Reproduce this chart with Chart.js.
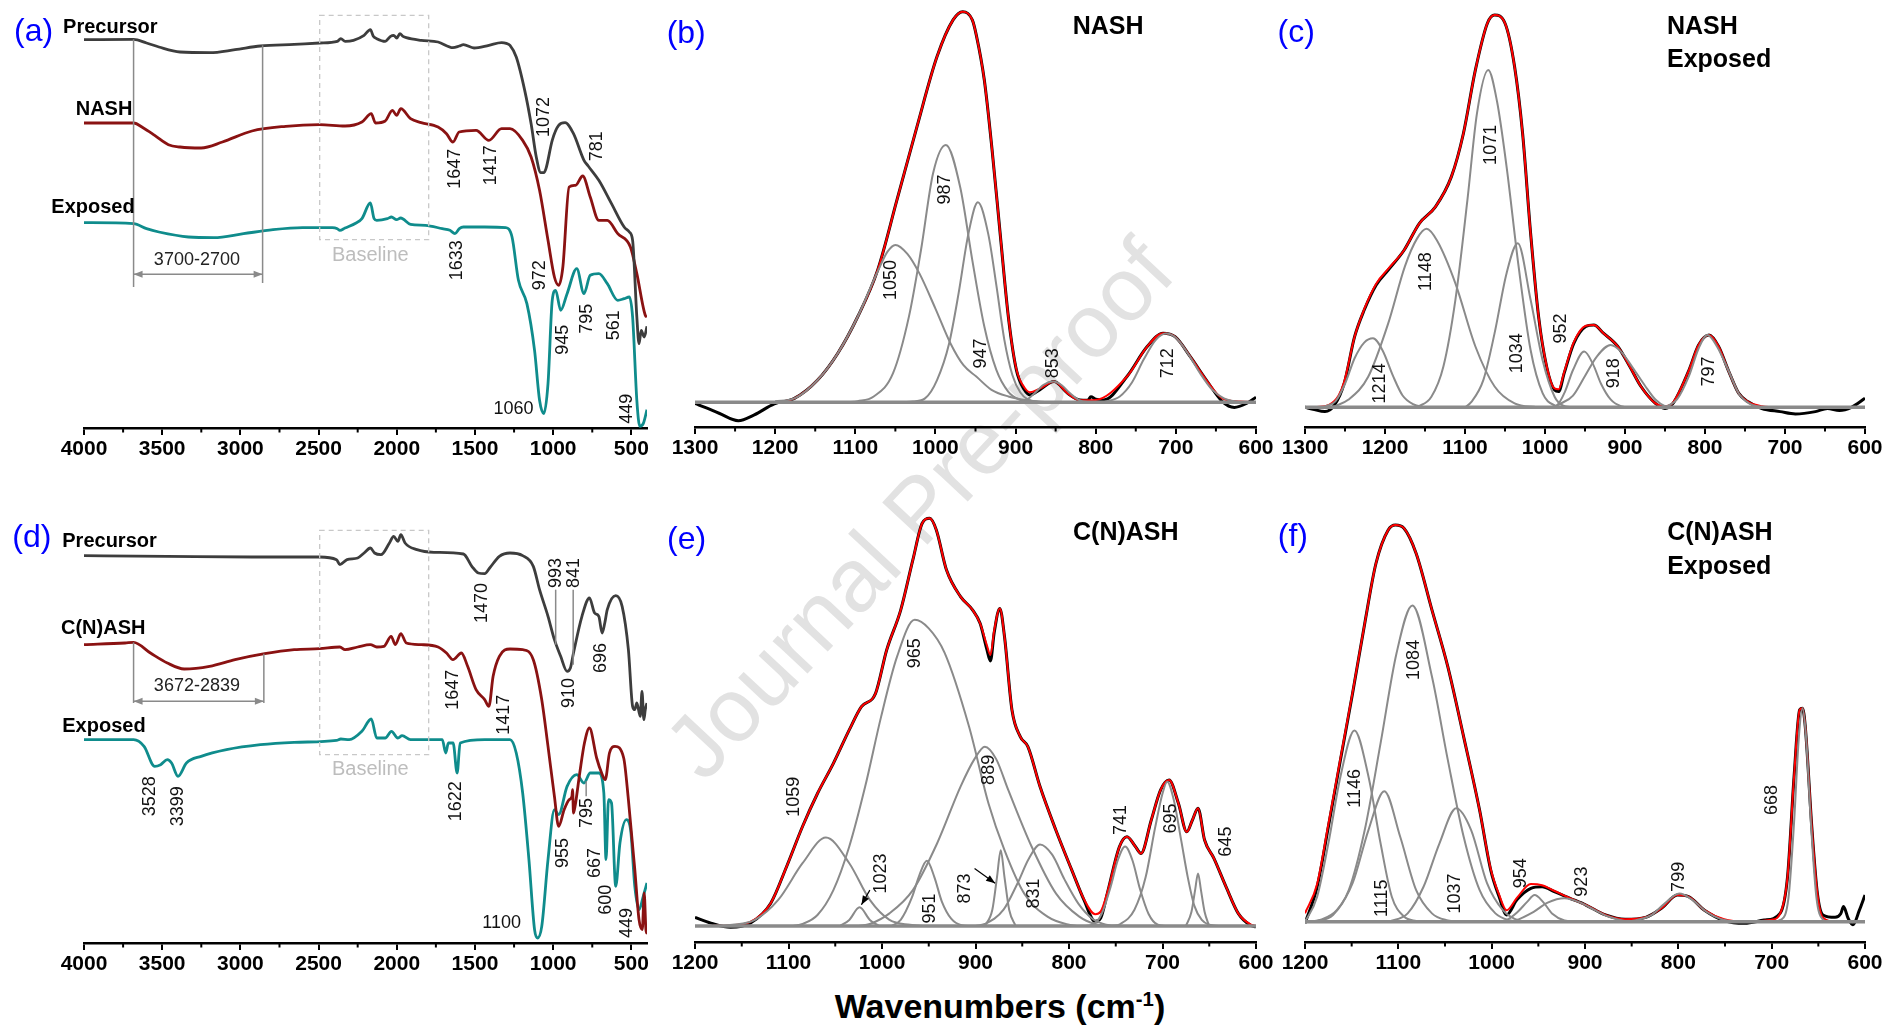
<!DOCTYPE html>
<html>
<head>
<meta charset="utf-8">
<script src="https://cdn.jsdelivr.net/npm/chart.js@4.4.1/dist/chart.umd.min.js"></script>
<style>
html, body { margin: 0; padding: 0; background: #fff; }
#fig { position: relative; width: 1890px; height: 1025px; overflow: hidden; background: #fff;
       font-family: "Liberation Sans", Arial, Helvetica, sans-serif; }
#fig canvas { position: absolute; z-index: 1; }
.wm { position: absolute; left: 919px; top: 509px; transform: translate(-50%, -50%) rotate(-47deg);
      font-size: 90px; color: #e2e2e2; white-space: nowrap; z-index: 0; }
.xt { position: absolute; left: 1000px; top: 1006px; transform: translate(-50%, -50%);
      font-size: 34px; font-weight: bold; white-space: nowrap; z-index: 2; line-height: 1; }
.xt sup { font-size: 60%; }
</style>
</head>
<body>
<div id="fig">
  <div class="wm">Journal Pre-proof</div>
  <div class="xt">Wavenumbers (cm<sup>-1</sup>)</div>
</div>
<script>
const FF = '"Liberation Sans", Arial, Helvetica, sans-serif';

// ---- tick values (cm-1) ----
const ticksWide = [4000, 3500, 3000, 2500, 2000, 1500, 1000, 500];
const minorWide = [3750, 3250, 2750, 2250, 1750, 1250, 750];
const ticksNarrow13 = [1300, 1200, 1100, 1000, 900, 800, 700, 600];
const minorNarrow13 = [1250, 1150, 1050, 950, 850, 750, 650];
const ticksNarrow12 = [1200, 1100, 1000, 900, 800, 700, 600];
const minorNarrow12 = [1150, 1050, 950, 850, 750, 650];

// ---- (a) NASH spectra, [wavenumber, a.u.] ----
const precA = [[4000,116.5],[3683,116.6],[3600,115.5],[3521,114.3],[3386,112.8],[3197,112.6],[3034,113.5],[2872,114.6],[2656,115.1],[2493,115.5],[2380,116.0],[2358,116.8],[2330,116.0],[2277,116.3],[2209,117.8],[2169,119.5],[2150,117.5],[2128,116.8],[2074,116.0],[2040,117.5],[2020,117.8],[2000,117.0],[1980,118.3],[1960,117.5],[1939,117.1],[1844,116.3],[1736,115.8],[1641,114.1],[1600,114.6],[1574,115.0],[1506,114.0],[1411,114.8],[1330,115.6],[1300,115.4],[1276,114.8],[1236,111.3],[1182,101.3],[1141,91.3],[1108,81.3],[1079,76.6],[1060,76.6],[1046,77.8],[1006,86.3],[965,90.8],[924,91.6],[870,88.3],[803,80.3],[776,78.6],[708,74.3],[627,67.3],[546,60.3],[513,58.8],[492,56.3],[465,33.3],[451,25.3],[437,29.3],[418,27.3],[400,30.5]];
const nashA = [[4000,91.5],[3683,91.5],[3620,90],[3548,87.8],[3460,85],[3386,84.3],[3251,84],[3115,85.8],[2926,89.1],[2710,90.5],[2493,91],[2331,90.6],[2223,91.8],[2163,94.3],[2136,91.5],[2074,92.1],[2028,95.3],[2001,93.8],[1974,95.8],[1912,92.8],[1844,91.6],[1736,90.3],[1682,88.3],[1641,85.8],[1601,88.8],[1493,89.3],[1411,86.3],[1330,89.8],[1276,89.8],[1195,86.3],[1141,81.3],[1087,71.3],[1033,56.3],[992,45.3],[965,42.8],[938,48.3],[898,72.3],[857,72.8],[811,75.6],[763,69.3],[708,62.3],[654,62.3],[587,58.3],[506,54.3],[465,46.3],[411,33.8],[400,33.3]];
const expA = [[4000,61.6],[3683,61.3],[3600,59.8],[3521,58.8],[3332,57.3],[3170,57.1],[2980,58.3],[2791,59.5],[2602,60.1],[2412,60.1],[2380,59.8],[2364,59.3],[2331,60.0],[2260,61.5],[2223,62.8],[2169,67.5],[2145,62.8],[2128,62.3],[2060,62.8],[2034,63.3],[2001,62.5],[1975,63.0],[1912,61.1],[1817,60.8],[1709,59.8],[1660,59.3],[1628,58.3],[1600,59.8],[1574,60.3],[1438,60.3],[1303,60.1],[1263,57.3],[1222,44.3],[1168,37.3],[1119,23.3],[1087,8.3],[1060,4.3],[1033,13.3],[1006,38.3],[984,41.3],[952,35.3],[911,40.3],[849,47.8],[803,40.3],[763,45.8],[708,46.3],[654,43.3],[587,38.3],[546,38.8],[513,39.3],[492,33.3],[465,8.3],[446,0.5],[424,1.3],[400,5.5]];
const namesA = [['Precursor',4134,120.3],['NASH',4053,95.5],['Exposed',4209,66.3]];
const peaksA = [['1072',1060,93.3],['781',722,84.5],['1647',1628,77.8],['1417',1398,78.8],['1633',1614,50.3],['972',1087,45.8],['945',938,26.5],['795',784,32.8],['561',613,30.8],['449',527,5.8]];
const flatA = [['1060',1254,5.8]];

// ---- (d) C(N)ASH spectra ----
const precD = [[4000,116.2],[3467,116],[2926,115.8],[2493,115.8],[2385,115],[2364,113.5],[2318,115],[2250,115.5],[2209,117],[2169,118.5],[2142,117],[2101,116.5],[2047,120],[2020,122],[1993,120.5],[1974,122.5],[1947,120],[1871,118],[1763,117.2],[1574,116.7],[1520,113],[1479,111],[1438,110.8],[1406,112.5],[1344,116],[1276,117],[1195,116.2],[1127,113],[1087,106],[1033,98],[992,91],[952,86],[911,81.5],[890,82.5],[870,87],[816,98],[768,103.5],[735,99],[708,98],[687,93],[670,96],[654,100],[600,104.2],[559,101],[519,88],[492,71],[478,70],[465,72],[443,68],[432,75.5],[420,67],[411,70],[400,72]];
const cnashD = [[4000,89.5],[3738,90],[3683,90.2],[3575,87],[3467,84],[3359,82.2],[3197,83],[3034,85],[2845,86.8],[2656,88],[2493,88.3],[2364,88.8],[2331,88],[2250,88.8],[2169,89.5],[2128,88.8],[2082,89],[2036,92],[2009,89.5],[1974,92.8],[1939,90],[1844,89.5],[1736,88.8],[1682,87],[1641,85],[1587,87],[1547,83],[1493,76],[1438,73],[1411,71],[1384,80],[1344,86],[1276,88.2],[1195,88],[1127,85],[1073,73],[1033,59],[992,44],[965,35],[930,40],[898,43],[880,44],[876,46],[870,39],[860,41],[830,51],[800,60],[768,64.5],[722,55.5],[690,51],[667,49],[640,57],[605,59],[549,55.5],[519,43],[478,22],[451,7],[430,4],[418,15],[405,3],[400,4]];
const expD = [[4000,61],[3683,61],[3616,59],[3548,53],[3510,53.5],[3467,55],[3440,54],[3399,50],[3345,54],[3251,56],[3089,58],[2872,59.5],[2656,60.2],[2385,60.8],[2358,61.2],[2304,61],[2223,63.5],[2163,67.2],[2128,61.5],[2074,61.5],[2034,63.5],[1993,61.5],[1966,62.2],[1912,61],[1709,61],[1687,57],[1670,60],[1640,60],[1614,51],[1595,60],[1438,61],[1276,61],[1236,57],[1195,45],[1155,25],[1119,4],[1100,1.5],[1073,5],[1033,25],[992,40],[965,38.5],[911,47],[849,50.5],[803,48],[763,51],[708,51],[676,45],[662,25],[646,43],[627,42],[600,17],[573,30],[532,37],[505,34],[478,17],[451,10],[424,14],[400,18]];
const namesD = [['Precursor',4139,120.5],['C(N)ASH',4147,94.5],['Exposed',4139,65]];
const peaksD = [['1470',1452,102],['993',984,111],['841',868,111],['696',694,85.5],['910',897,75],['1647',1641,76],['1417',1317,68.5],['3528',3575,44],['3399',3399,41],['1622',1622,42.5],['955',938,27],['795',784,39],['667',735,24],['600',662,13],['449',527,6]];
const flatD = [['1100',1330,6]];

// ---- (b) NASH deconvolution ----
const measB = [[1300,-0.3],[1285,-1.5],[1270,-2.8],[1246,-4.7],[1226,-3.2],[1201,-0.4],[1176,1.0],[1147,5.7],[1122,12.5],[1097,21.9],[1072,33.9],[1048,51.8],[1023,70.6],[998,88.5],[978,97.9],[966,100],[954,97.9],[949,94],[939,82.5],[929,64],[919,42.7],[909,21.9],[899,8.3],[889,3.2],[882,1.9],[870,3.2],[852,5.3],[835,2.3],[820,0.6],[810,0.5],[806,1.4],[800,0.8],[790,0.6],[761,6.6],[736,14.2],[716,17.7],[701,16.8],[682,11.7],[662,5.7],[642,0.2],[627,-1.3],[612,-0.3],[600,1.3]];
const fitB = [[1200,0],[1176,1.0],[1147,5.7],[1122,12.5],[1097,21.9],[1072,33.9],[1048,51.8],[1023,70.6],[998,88.5],[978,97.9],[966,100],[954,97.9],[949,94],[939,82.5],[929,64],[919,42.7],[909,21.9],[899,8.5],[889,3.8],[882,2.6],[870,3.5],[852,5.3],[835,2.3],[820,0.5],[800,0.6],[761,6.6],[736,14.2],[716,17.7],[701,16.8],[682,11.7],[662,5.7],[642,1],[620,0.2],[600,0]];
const bandsB = [
  [[1200,0.3],[1176,1.0],[1147,5.7],[1122,12.5],[1097,21.9],[1072,33.5],[1060,38.5],[1050,40.3],[1035,38],[1020,33],[1000,24],[981,15],[965,9.5],[949,6.6],[930,3.2],[909,1.5],[885,0.5],[860,0]],
  [[1110,0],[1097,0.3],[1077,1.5],[1053,7.4],[1033,22],[1018,39],[1003,58.6],[987,65.9],[969,55],[954,36.4],[939,19.4],[924,8.3],[909,2.7],[894,0.6],[880,0]],
  [[1040,0],[1028,0.2],[1013,1],[998,5.7],[983,15],[971,28],[959,43],[947,51.2],[934,43],[924,30],[914,16],[904,7],[894,2.5],[884,0.6],[870,0]],
  [[900,0],[890,0.2],[878,2],[865,4.5],[853,5.3],[842,4.3],[832,2.3],[820,0.5],[805,0]],
  [[790,0],[770,1.5],[755,5],[740,11],[725,16],[712,17.6],[700,16.5],[685,12.5],[670,7.5],[655,3.3],[640,1],[620,0]]
];
const peaksB = [['1050',1055,31.3],['987',988,54.5],['947',943,12.5],['853',853,10],['712',710,10]];

// ---- (c) NASH exposed deconvolution ----
const measC = [[1300,0],[1290,-0.5],[1275,-1.1],[1263,0.6],[1251,6.1],[1238,18],[1226,24.8],[1211,31.2],[1196,35],[1176,40.1],[1157,46.9],[1137,51.1],[1117,58.8],[1102,69.8],[1087,86],[1072,97.9],[1063,100],[1050,97.9],[1038,86.8],[1028,69.8],[1018,44.4],[1008,23.1],[998,10.4],[988,4.4],[983,4],[976,8.7],[964,16.3],[949,20.6],[939,21],[927,18.9],[909,15.5],[894,10.4],[880,5.3],[862,1],[850,-0.3],[840,1],[820,9.5],[808,15.9],[795,18.4],[783,15.5],[771,9.5],[758,3.6],[746,1.4],[729,-0.3],[706,-1.1],[687,-1.7],[662,-1.1],[647,-0.3],[632,-0.8],[617,0],[600,2.3]];
const fitC = [[1300,0],[1285,0.1],[1270,0.6],[1258,3],[1251,6.5],[1238,18],[1226,25],[1211,31.5],[1196,35.3],[1176,40.1],[1157,46.9],[1137,51.1],[1117,58.8],[1102,69.8],[1087,86],[1072,97.9],[1063,100],[1050,97.9],[1038,86.8],[1028,69.8],[1018,44.4],[1008,23.1],[998,10.6],[988,4.8],[983,4.6],[976,9],[964,16.6],[949,20.8],[939,21],[927,18.9],[909,15.5],[894,10.4],[880,5.3],[862,1],[850,0.3],[840,1.2],[820,9.5],[808,15.9],[795,18.4],[783,15.5],[771,9.5],[758,3.6],[746,1.4],[729,0.3],[710,0],[600,0]];
const bandsC = [
  [[1275,0.2],[1262,1.5],[1250,6],[1238,12.5],[1226,16.5],[1215,17.6],[1203,14.5],[1190,8],[1178,3],[1165,0.8],[1150,0]],
  [[1270,0],[1260,0.5],[1246,1.9],[1221,7.8],[1196,21.4],[1175,36],[1160,43],[1148,45.5],[1135,42.5],[1112,31.6],[1087,15.5],[1063,5.3],[1038,1],[1010,0]],
  [[1160,0],[1142,2.7],[1127,10.4],[1112,27.4],[1097,52.8],[1085,75],[1071,86],[1060,78],[1048,61.3],[1033,35.9],[1018,14.6],[1003,3.6],[988,0.5],[975,0]],
  [[1100,0],[1092,1.4],[1077,7],[1063,18.9],[1048,34.2],[1034,41.8],[1018,27.4],[1003,12],[988,2.7],[978,0.5],[965,0]],
  [[995,0],[985,0.5],[975,4],[965,9.5],[951,14.2],[940,11],[930,6],[918,2],[905,0.3],[890,0]],
  [[990,0],[980,1],[965,3],[950,8],[935,13],[918,15.9],[905,14.2],[890,10],[875,5.5],[862,2],[850,0.3],[840,0]],
  [[850,0],[835,2],[820,8],[808,15],[797,18.4],[785,15.5],[771,9.5],[758,3.6],[745,1],[730,0]]
];
const peaksC = [['1214',1206,6.1],['1148',1149,34.6],['1071',1067.5,66.9],['1034',1035,13.8],['952',979.5,20.1],['918',914,8.7],['797',795.5,9.1]];

// ---- (e) C(N)ASH deconvolution ----
const measE = [[1200,2.1],[1183,0.7],[1162,-0.3],[1141,0.7],[1119,5.6],[1102,14.6],[1085,24.4],[1069,32.5],[1052,39.9],[1035,48.1],[1022,53.8],[1007,57],[995,67.7],[980,77.5],[967,89.8],[957,98.8],[949,100],[942,97.2],[931,87.3],[916,80.8],[903,77.5],[895,74.2],[888,68],[884,65],[880,72],[874,77.9],[869,71],[861,53],[852,46.4],[844,44],[831,34.2],[814,23.5],[797,13.7],[784,6.4],[772,1.1],[766,2],[759,8],[746,19.5],[738,21.9],[729,19.5],[723,17.8],[712,26],[702,33.4],[693,35.8],[683,30.1],[674,23.1],[668,26],[662,28.9],[655,21.1],[645,16.6],[632,9.6],[619,3.1],[606,0.2],[600,-0.2]];
const fitE = [[1185,0],[1162,0.2],[1141,1],[1119,5.6],[1102,14.6],[1085,24.4],[1069,32.5],[1052,39.9],[1035,48.1],[1022,53.8],[1007,57],[995,67.7],[980,77.5],[967,89.8],[957,98.8],[949,100],[942,97.2],[931,87.3],[916,80.8],[903,77.5],[895,74.2],[888,69],[884,66.5],[880,72.5],[874,77.9],[869,71],[861,53],[852,46.4],[844,44],[831,34.2],[814,23.5],[797,13.7],[784,6.6],[772,2.9],[766,3.6],[759,8.2],[746,19.5],[738,21.9],[729,19.5],[723,17.8],[712,26],[702,33.4],[693,35.8],[683,30.1],[674,23.1],[668,26],[662,28.9],[655,21.1],[645,16.6],[632,9.6],[619,3.1],[606,0.4],[600,0]];
const bandsE = [
  [[1180,0],[1160,0.3],[1136,1.5],[1111,6.4],[1085,15.4],[1060,21.7],[1035,15.4],[1013,6.4],[992,1.5],[970,0.3],[955,0]],
  [[1045,0],[1035,1.5],[1024,4.6],[1013,1.5],[1003,0]],
  [[1095,0],[1085,0.5],[1069,2.7],[1052,8.8],[1035,19.5],[1018,34.2],[1001,51.3],[984,66],[965,75.1],[950,73],[933,67],[907,49],[886,30],[869,18.6],[848,8],[823,2.3],[800,0.3],[790,0]],
  [[990,0],[980,1.5],[968,7],[960,12.5],[952,16],[944,12],[936,6],[926,1.8],[915,0.2],[905,0]],
  [[1025,0],[1013,0.5],[992,3.1],[967,8.8],[941,20.3],[916,34.2],[901,41],[890,44],[878,41],[865,33.4],[840,19.5],[814,8],[789,2.3],[772,0.5],[755,0]],
  [[890,0],[882,4],[877,12],[873,18.6],[869,12],[864,4],[857,0]],
  [[900,0],[890,0.5],[870,4],[855,10.5],[843,16.5],[831,20],[818,17.5],[805,11.5],[790,5.5],[775,1.8],[760,0.3],[750,0]],
  [[785,0],[775,0.3],[765,3],[755,10],[748,16],[740,19.5],[732,16],[724,9],[715,3],[705,0.3],[695,0]],
  [[755,0],[745,0.5],[730,4],[718,12],[708,24],[700,32.5],[695,35.4],[688,31],[680,21],[673,12],[666,5],[658,1.5],[650,0.3],[640,0]],
  [[675,0],[669,3.5],[665,9],[662,12.9],[659,9],[655,3.5],[650,0]]
];
const peaksE = [['1059',1094,31.7],['1023',1000.7,12.9],['965',964.7,66.9],['951',949,4.3],['889',885.4,38.3],['873',911.7,9.2],['831',837.5,8],['741',744,26],['695',691,26.4],['645',632,20.7]];

// ---- (f) C(N)ASH exposed deconvolution ----
const measF = [[1200,-0.4],[1187,8.8],[1175,23.9],[1162,40.8],[1149,57.6],[1136,75.2],[1124,90.3],[1111,98.7],[1103,100],[1094,99.2],[1081,92.9],[1064,78.6],[1047,64.3],[1030,46.6],[1013,28.2],[1001,13],[992,6.3],[984,1.7],[973,5.5],[958,8.4],[946,8.8],[933,7.6],[916,5.9],[899,4.2],[878,1.7],[857,0.6],[835,1.1],[818,3.4],[801,6.7],[789,6.3],[772,2.9],[751,0.3],[729,-0.4],[708,0.4],[691,2.1],[683,11.3],[676,36.6],[670,53.4],[667,53.8],[664,49.2],[657,23.9],[651,7.1],[645,1.7],[632,1.1],[626,2],[623,3.8],[618,0.8],[613,-0.8],[606,2.9],[600,6.7]];
const fitF = [[1200,2.1],[1187,9.5],[1175,24.5],[1162,41.2],[1149,57.8],[1136,75.2],[1124,90.3],[1111,98.7],[1103,100],[1094,99.2],[1081,92.9],[1064,78.6],[1047,64.3],[1030,46.6],[1013,28.2],[1001,13.3],[992,6.8],[984,2.9],[973,6],[958,9.5],[946,9.2],[933,7.8],[916,5.9],[899,4.2],[878,1.7],[857,0.6],[835,1.1],[818,3.4],[801,6.7],[789,6.3],[772,2.9],[751,0.6],[729,0],[700,0.5],[691,2],[683,11.3],[676,36.6],[670,53.4],[667,53.8],[664,49.2],[657,23.9],[651,7.1],[645,1],[632,0],[600,0]];
const bandsF = [
  [[1200,0.2],[1198,0.8],[1187,6.3],[1175,19.7],[1162,36.6],[1147,48.2],[1132,36.6],[1119,19.7],[1107,6.3],[1094,1.3],[1081,0.2],[1070,0]],
  [[1195,0],[1183,0.5],[1166,2.9],[1149,9.7],[1132,23.1],[1115,32.9],[1098,21.4],[1081,8],[1064,2.1],[1047,0.3],[1035,0]],
  [[1190,0],[1170,1.7],[1153,8],[1136,23.1],[1119,45],[1102,67.6],[1085,79.7],[1064,61.8],[1047,40.8],[1030,21.4],[1013,8],[996,2.1],[980,0.3],[970,0]],
  [[1110,0],[1090,2.1],[1073,8.8],[1056,19.7],[1038,28.6],[1022,23.1],[1005,9.7],[988,2.9],[971,0.3],[960,0]],
  [[995,0],[985,0.3],[972,2.5],[962,5],[954,6.7],[945,5],[935,2],[922,0.3],[910,0]],
  [[985,0],[975,0.3],[955,2.5],[940,4.8],[922,5.9],[905,4.8],[890,3],[875,1.3],[860,0.3],[850,0]],
  [[860,0],[850,0.2],[830,1.5],[815,4.5],[799,7.1],[785,5.5],[770,2.5],[755,0.7],[740,0]],
  [[700,0],[690,0.5],[682,6],[676,25],[671,46],[667,53.8],[663,46],[658,25],[652,6],[645,0.5],[640,0]]
];
const peaksF = [['1146',1146,33.6],['1115',1117,5.9],['1084',1083,66],['1037',1039,7.1],['954',969,12.2],['923',903,10.1],['799',799,11.3],['668',700,30.7]];

// ---- colours ----
const C_PREC = '#3d3d3d', C_NASH = '#8a1212', C_EXP = '#0f8c8c';
const C_BAND = '#8a8a8a', C_FIT = '#ff0000', C_MEAS = '#000000';

Chart.defaults.font.family = FF;

function pts(arr) { return arr.map(p => ({ x: p[0], y: p[1] })); }

function series(arr, color, width, order) {
  return { data: pts(arr), borderColor: color, borderWidth: width, pointRadius: 0,
           fill: false, cubicInterpolationMode: 'monotone', order: order };
}

function arrowHead(ctx, x1, y1, x2, y2, len, half) {
  const a = Math.atan2(y2 - y1, x2 - x1);
  ctx.beginPath();
  ctx.moveTo(x2, y2);
  ctx.lineTo(x2 - len * Math.cos(a) + half * Math.sin(a), y2 - len * Math.sin(a) - half * Math.cos(a));
  ctx.lineTo(x2 - len * Math.cos(a) - half * Math.sin(a), y2 - len * Math.sin(a) + half * Math.cos(a));
  ctx.closePath();
  ctx.fill();
}

function annot(spec) {
  return {
    id: 'annot',
    afterDatasetsDraw(chart) {
      const ctx = chart.ctx;
      const X = v => chart.scales.x.getPixelForValue(v);
      const Y = v => chart.scales.y.getPixelForValue(v);
      ctx.save();
      // dashed "Baseline" boxes
      (spec.boxes || []).forEach(b => {
        ctx.setLineDash([5, 4]);
        ctx.strokeStyle = '#c8c8c8';
        ctx.lineWidth = 1.3;
        ctx.strokeRect(X(b[0]), Y(b[3]), X(b[1]) - X(b[0]), Y(b[2]) - Y(b[3]));
        ctx.setLineDash([]);
      });
      // plain leader lines
      (spec.lines || []).forEach(l => {
        ctx.strokeStyle = l[4] || '#8a8a8a';
        ctx.lineWidth = 1.5;
        ctx.beginPath();
        ctx.moveTo(X(l[0]), Y(l[1]));
        ctx.lineTo(X(l[2]), Y(l[3]));
        ctx.stroke();
      });
      // arrows: [x1,y1,x2,y2,color,double]
      (spec.arrows || []).forEach(a => {
        const x1 = X(a[0]), y1 = Y(a[1]), x2 = X(a[2]), y2 = Y(a[3]);
        ctx.strokeStyle = a[4]; ctx.fillStyle = a[4];
        ctx.lineWidth = a[5] ? 1.5 : 1.2;
        ctx.beginPath(); ctx.moveTo(x1, y1); ctx.lineTo(x2, y2); ctx.stroke();
        arrowHead(ctx, x1, y1, x2, y2, 9, 3.5);
        if (a[5]) arrowHead(ctx, x2, y2, x1, y1, 9, 3.5);
      });
      // texts
      (spec.texts || []).forEach(t => {
        ctx.font = t.font;
        ctx.fillStyle = t.color || '#111';
        ctx.textAlign = t.align || 'center';
        ctx.textBaseline = 'middle';
        if (t.rot) {
          ctx.save();
          ctx.translate(X(t.x), Y(t.y));
          ctx.rotate(-Math.PI / 2);
          ctx.fillText(t.t, 0, 0);
          ctx.restore();
        } else {
          ctx.fillText(t.t, X(t.x), Y(t.y));
        }
      });
      // minor ticks on the x axis
      const bottom = chart.chartArea.bottom;
      ctx.strokeStyle = '#000';
      ctx.lineWidth = 2;
      (spec.minor || []).forEach(m => {
        ctx.beginPath();
        ctx.moveTo(X(m), bottom);
        ctx.lineTo(X(m), bottom + 4.5);
        ctx.stroke();
      });
      ctx.restore();
    }
  };
}

function rotLabels(arr) {
  return arr.map(p => ({ t: p[0], x: p[1], y: p[2], rot: true, font: '18px ' + FF, color: '#111' }));
}
function flatLabels(arr) {
  return arr.map(p => ({ t: p[0], x: p[1], y: p[2], font: '18px ' + FF, color: '#111' }));
}
function nameLabels(arr) {
  return arr.map(p => ({ t: p[0], x: p[1], y: p[2], align: 'left', font: 'bold 20px ' + FF, color: '#000' }));
}
function letter(t, x, y) {
  return { t: t, x: x, y: y, font: '32px ' + FF, color: '#0000ff' };
}
function title(t, x, y) {
  return { t: t, x: x, y: y, align: 'left', font: 'bold 25px ' + FF, color: '#000' };
}

function makePanel(g, datasets, xr, yr, majors, minors, spec) {
  const axisH = 44;
  const cv = document.createElement('canvas');
  const w = g.R - g.L + g.pl + g.pr, h = g.B - g.T + axisH;
  cv.width = w; cv.height = h;
  cv.style.width = w + 'px'; cv.style.height = h + 'px';
  cv.style.left = (g.L - g.pl) + 'px'; cv.style.top = g.T + 'px';
  document.getElementById('fig').appendChild(cv);
  spec.minor = minors;
  return new Chart(cv, {
    type: 'line',
    data: { datasets: datasets },
    options: {
      responsive: false,
      animation: false,
      devicePixelRatio: 1,
      events: [],
      layout: { padding: { left: g.pl, right: g.pr, top: 0, bottom: 0 } },
      plugins: { legend: { display: false }, tooltip: { enabled: false } },
      scales: {
        x: {
          type: 'linear', reverse: true, min: xr[0], max: xr[1],
          afterFit: s => { s.height = axisH; },
          afterBuildTicks: s => { s.ticks = majors.map(v => ({ value: v })); },
          border: { display: true, color: '#000', width: 2.5 },
          grid: { display: true, drawOnChartArea: false, drawTicks: true, tickLength: 7, color: '#000', lineWidth: 2 },
          ticks: { autoSkip: false, maxRotation: 0, minRotation: 0, padding: 2, color: '#000',
                   font: { size: 21, weight: 'bold' }, callback: v => String(v) }
        },
        y: { display: false, min: yr[0], max: yr[1] }
      }
    },
    plugins: [annot(spec)]
  });
}

function deconv(meas, fit, bands) {
  const ds = [series([[1300, 0], [600, 0]], C_BAND, 3.5, 0)];
  bands.forEach(b => ds.push(series(b, C_BAND, 2, 0)));
  ds.push(series(fit, C_FIT, 2, 1));
  ds.push(series(meas, C_MEAS, 3, 2));
  return ds;
}

// ---- (a) ----
makePanel({ L: 84, R: 647, T: 5, B: 428, pl: 84, pr: 40 },
  [series(precA, C_PREC, 2.8, 0), series(nashA, C_NASH, 2.8, 0), series(expA, C_EXP, 2.8, 0)],
  [400, 4000], [0, 126.9], ticksWide, minorWide,
  {
    boxes: [[2493, 1796, 56.5, 123.8]],
    lines: [[3683, 116.6, 3683, 42.3], [2858, 114.8, 2858, 43.5]],
    arrows: [[3683, 46.1, 2858, 46.1, '#8a8a8a', true]],
    texts: [letter('(a)', 4322, 118.8)]
      .concat(nameLabels(namesA))
      .concat(rotLabels(peaksA))
      .concat(flatLabels(flatA))
      .concat([{ t: '3700-2700', x: 3278, y: 50.3, font: '18px ' + FF, color: '#222' },
               { t: 'Baseline', x: 2169, y: 51.8, font: '20px ' + FF, color: '#bdbdbd' }])
  });

// ---- (d) ----
makePanel({ L: 84, R: 647, T: 515, B: 943, pl: 84, pr: 40 },
  [series(precD, C_PREC, 2.8, 0), series(cnashD, C_NASH, 2.8, 0), series(expD, C_EXP, 2.8, 0)],
  [400, 4000], [0, 128.4], ticksWide, minorWide,
  {
    boxes: [[2493, 1796, 56.5, 123.8]],
    lines: [[3683, 90.2, 3683, 72], [2850, 86.8, 2850, 72], [984, 106, 984, 89.5], [872, 106, 872, 83.5], [789, 48.5, 789, 44]],
    arrows: [[3683, 72.5, 2850, 72.5, '#8a8a8a', true]],
    texts: [letter('(d)', 4333, 121.5)]
      .concat(nameLabels(namesD))
      .concat(rotLabels(peaksD))
      .concat(flatLabels(flatD))
      .concat([{ t: '3672-2839', x: 3278, y: 77, font: '18px ' + FF, color: '#222' },
               { t: 'Baseline', x: 2169, y: 52, font: '20px ' + FF, color: '#bdbdbd' }])
  });

// ---- (b) ----
makePanel({ L: 695, R: 1256, T: 5, B: 427, pl: 45, pr: 40 },
  deconv(measB, fitB, bandsB), [600, 1300], [-6.32, 101.71], ticksNarrow13, minorNarrow13,
  { texts: [letter('(b)', 1311, 94.3), title('NASH', 828.7, 96.1)].concat(rotLabels(peaksB)) });

// ---- (c) ----
makePanel({ L: 1305, R: 1865, T: 5, B: 427, pl: 45, pr: 25 },
  deconv(measC, fitC, bandsC), [600, 1300], [-5.02, 102.55], ticksNarrow13, minorNarrow13,
  { texts: [letter('(c)', 1311, 95.4), title('NASH', 847.5, 97), title('Exposed', 847.5, 88.5)].concat(rotLabels(peaksC)) });

// ---- (e) ----
makePanel({ L: 695, R: 1256, T: 512, B: 942, pl: 45, pr: 40 },
  deconv(measE, fitE, bandsE), [600, 1200], [-3.92, 101.55], ticksNarrow12, minorNarrow12,
  {
    arrows: [[901, 14.1, 879, 10.5, '#000', false], [1013, 8.8, 1022, 5.2, '#000', false]],
    texts: [letter('(e)', 1209, 94.7), title('C(N)ASH', 795.7, 96.3)].concat(rotLabels(peaksE))
  });

// ---- (f) ----
makePanel({ L: 1305, R: 1865, T: 512, B: 942, pl: 45, pr: 25 },
  deconv(measF, fitF, bandsF), [600, 1200], [-5.12, 103.28], ticksNarrow12, minorNarrow12,
  { texts: [letter('(f)', 1213, 97), title('C(N)ASH', 812, 97.9), title('Exposed', 812, 89.5)].concat(rotLabels(peaksF)) });
</script>
</body>
</html>
